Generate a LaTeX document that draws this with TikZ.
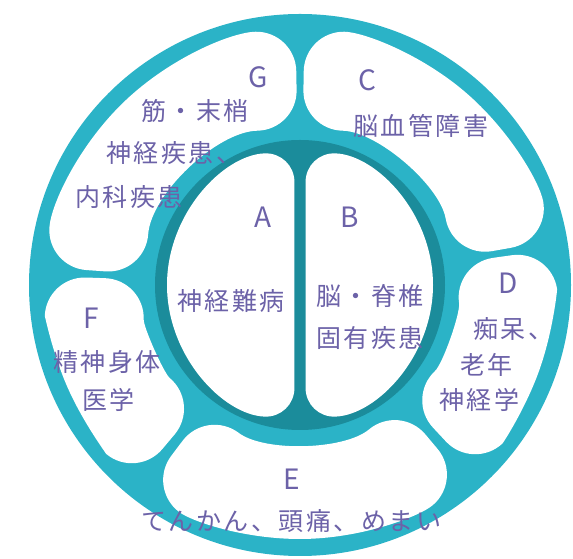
\documentclass[tikz,border=0pt]{standalone}
\usepackage{fontspec}
\setmainfont{Noto Sans CJK JP}
\newfontfamily\jpfont{Noto Sans CJK JP}[LetterSpace=10]
\usetikzlibrary{calc}
\definecolor{ringlight}{RGB}{43,179,199}
\definecolor{ringdark}{RGB}{27,140,155}
\definecolor{txtpurple}{RGB}{108,98,168}

\begin{document}
\begin{tikzpicture}[x=1pt, y=1pt,
    blob/.style={fill=white, rounded corners=40pt},
    half/.style={fill=white, rounded corners=30pt},
    letter/.style={text=txtpurple, inner sep=0pt, font=\fontsize{28}{30}\selectfont},
    jtext/.style={text=txtpurple, inner sep=0pt, anchor=west, font=\jpfont\fontsize{25}{27}\selectfont}]
  \useasboundingbox (0,0) rectangle (573,559);
  \coordinate (c0) at (300,274);

  \begin{scope}[shift={(c0)}]
    \fill[ringlight] (0,0) circle[radius=271];
    \foreach \a/\b in {10/89, 91/176, 178/230, 233/310, 313/368}
      \fill[blob] ({(\a+\b)/2}:254) arc[start angle={(\a+\b)/2}, end angle=\b, radius=254]
        -- (\b:155) arc[start angle=\b, end angle=\a, radius=155]
        -- (\a:254) arc[start angle=\a, end angle={(\a+\b)/2}, radius=254];
    \fill[ringdark] (0,0) circle[radius=145];
    \fill[half] (180:133) arc[start angle=180, end angle=267.6, radius=133]
      -- (92.4:133) arc[start angle=92.4, end angle=180, radius=133];
    \fill[half] (0:133) arc[start angle=0, end angle=87.6, radius=133]
      -- (-87.6:133) arc[start angle=-87.6, end angle=0, radius=133];
  \end{scope}

  \node[letter] (labA) at (263,342) {A};
  \node[jtext] (txtA) at (177,258) {神経難病};

  \node[letter] (labB) at (350,342) {B};
  \node[jtext] (txtB1) at (316,263) {脳・脊椎};
  \node[jtext] (txtB2) at (316,221) {固有疾患};

  \node[letter] (labC) at (367,479) {C};
  \node[jtext] (txtC) at (353,433) {脳血管障害};

  \node[letter] (labD) at (508,276) {D};
  \node[jtext] (txtD1) at (473,230) {痴呆、};
  \node[jtext] (txtD2) at (460,194) {老年};
  \node[jtext] (txtD3) at (439,159) {神経学};

  \node[letter] (labE) at (292,80) {E};
  \node[jtext] (txtE) at (141,38) {てんかん、頭痛、めまい};

  \node[letter] (labF) at (91,241) {F};
  \node[jtext] (txtF1) at (53,197) {精神身体};
  \node[jtext] (txtF2) at (82,159) {医学};

  \node[letter] (labG) at (258,482) {G};
  \node[jtext] (txtG1) at (141,448) {筋・末梢};
  \node[jtext] (txtG2) at (106,406) {神経疾患、};
  \node[jtext] (txtG3) at (75,362) {内科疾患};
\end{tikzpicture}
\end{document}
